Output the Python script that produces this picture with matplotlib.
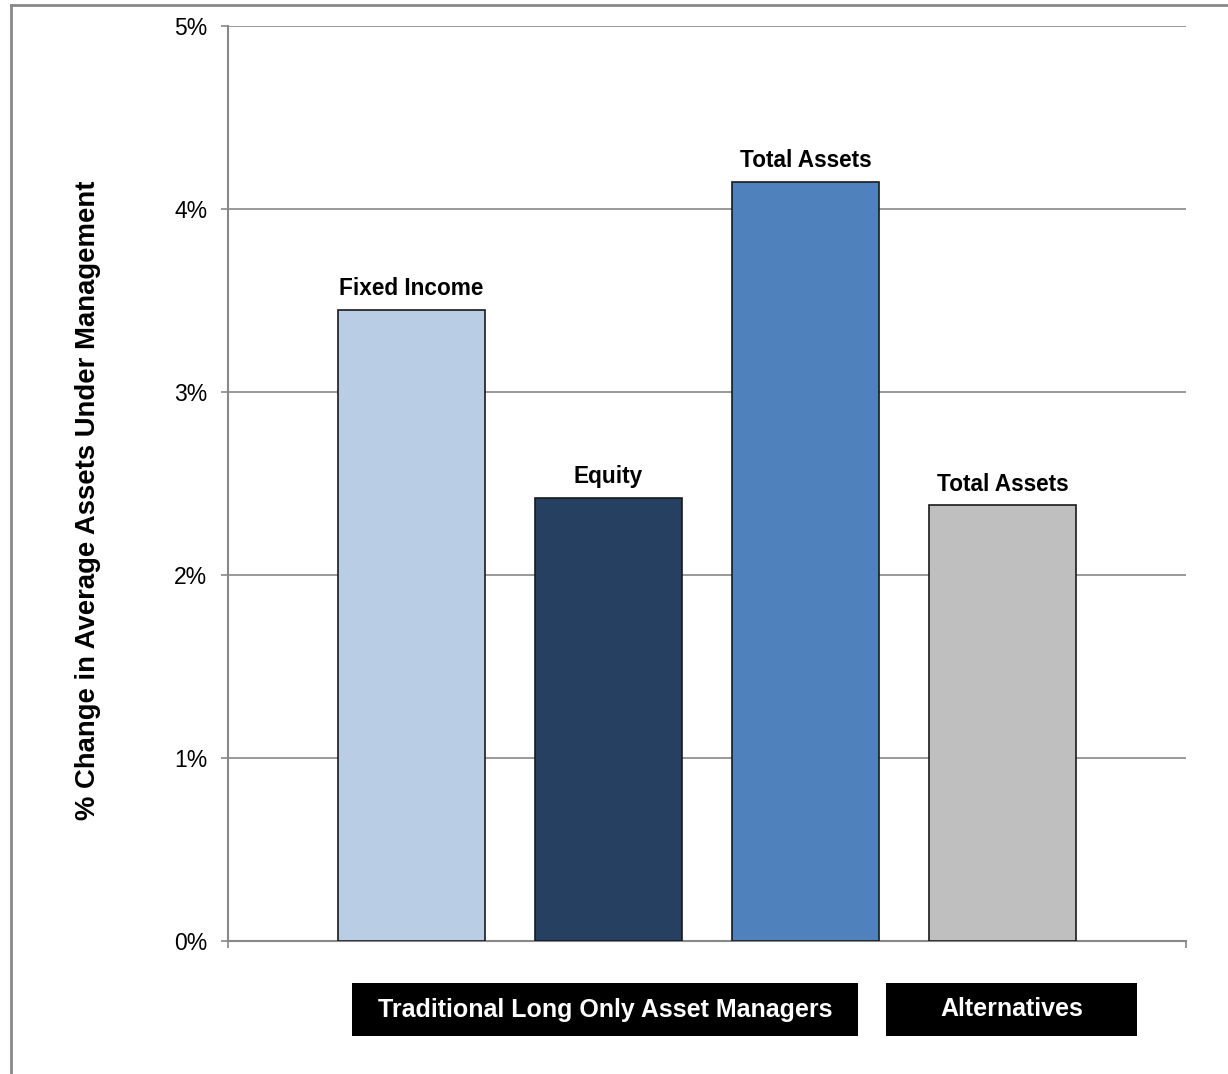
import matplotlib
matplotlib.use("Agg")
import matplotlib.pyplot as plt
from matplotlib.lines import Line2D
from matplotlib.patches import Rectangle

plt.rcParams['font.family'] = ['Liberation Sans', 'DejaVu Sans']

labels = ["Fixed Income", "Equity", "Total Assets", "Total Assets"]
values = [3.45, 2.42, 4.15, 2.38]
colors = ["#B9CDE5", "#254061", "#4F81BD", "#BFBFBF"]
yticks = [0, 1, 2, 3, 4, 5]
ytick_labels = ["0%", "1%", "2%", "3%", "4%", "5%"]
groups = ["Traditional Long Only Asset Managers", "Alternatives"]
ylabel = "% Change in Average Assets Under Management"

W, H = 1228, 1074
fig = plt.figure(figsize=(W / 100, H / 100), dpi=100)
ax = fig.add_axes([228 / W, 1 - 941 / H, (1186 - 228) / W, (941 - 26) / H])

x = list(range(len(values)))
bars = ax.bar(x, values, width=0.746, color=colors, edgecolor="#1a1a1a", linewidth=1.2, zorder=3)
ax.set_xlim(-0.93, 3.93)
ax.set_ylim(0, 5)
ax.set_yticks(yticks)
ax.set_yticklabels(ytick_labels, fontsize=16.5)
ax.set_xticks([-0.93, 3.93])
ax.set_xticklabels(["", ""])
ax.tick_params(axis="y", length=5, width=1.2, color="#888888", pad=10)
ax.tick_params(axis="x", length=5, width=1.2, color="#888888")
ax.yaxis.grid(True, color="#888888", linewidth=1.2, zorder=0)
for s in ["top", "right"]:
    ax.spines[s].set_visible(False)
for s in ["left", "bottom"]:
    ax.spines[s].set_color("#888888")
    ax.spines[s].set_linewidth(1.5)

for xi, v, lab in zip(x, values, labels):
    ax.annotate(lab, (xi, v), xytext=(0, 7), textcoords="offset points",
                ha="center", va="bottom", fontsize=16.3, fontweight="bold")

fig.text(88 / W, 1 - 500 / H, ylabel, rotation=90, ha="center", va="center",
         fontsize=19.8, fontweight="bold")

# group boxes
boxes = [(352, 858), (886, 1137)]
for (x0, x1), g in zip(boxes, groups):
    fig.patches.append(Rectangle((x0 / W, 1 - 1036 / H), (x1 - x0) / W, 53 / H,
                                 transform=fig.transFigure, facecolor="black", edgecolor="none"))
    fig.text((x0 + x1) / 2 / W, 1 - 1009.5 / H, g, color="white", ha="center", va="center",
             fontsize=18, fontweight="bold")

# outer border
fig.add_artist(Line2D([11 / W, 11 / W], [0, 1 - 5 / H], transform=fig.transFigure, color="#888888", linewidth=2))
fig.add_artist(Line2D([11 / W, 1], [1 - 5 / H, 1 - 5 / H], transform=fig.transFigure, color="#888888", linewidth=2))

fig.savefig("out.png", dpi=100)
